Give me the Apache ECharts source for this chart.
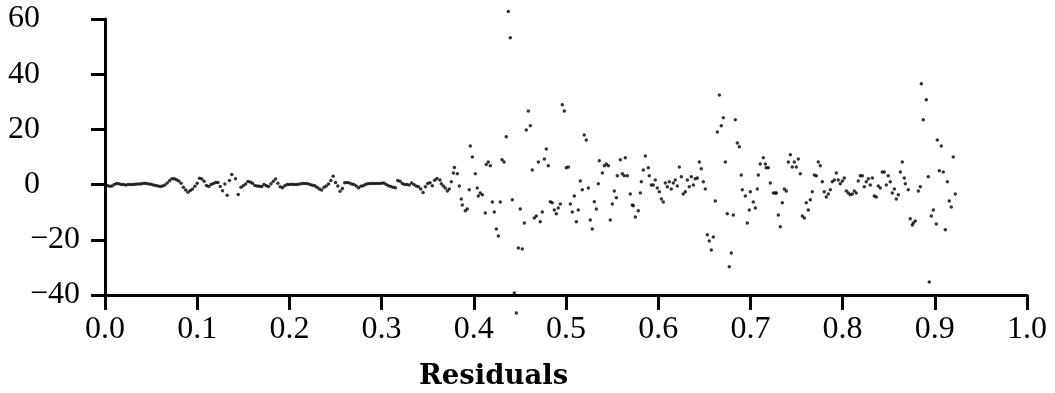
<!DOCTYPE html>
<html>
<head>
<meta charset="utf-8">
<script src="https://cdn.jsdelivr.net/npm/echarts@6/dist/echarts.min.js"></script>
<style>
html,body{margin:0;padding:0;background:#fff;}
#chart{width:1055px;height:393px;}
</style>
</head>
<body>
<div id="chart"></div>
<script>
// Tick labels
const xTicks = [0.0, 0.1, 0.2, 0.3, 0.4, 0.5, 0.6, 0.7, 0.8, 0.9, 1.0];
const yTicks = [-40, -20, 0, 20, 40, 60];
const titleText = 'Residuals';

// Low-noise part of the residuals (x < 0.365)
const flatX = [0.0000,0.0025,0.0050,0.0075,0.0100,0.0125,0.0150,0.0175,0.0200,0.0225,0.0250,0.0275,0.0300,0.0325,0.0350,0.0375,0.0400,0.0425,0.0450,0.0475,0.0500,0.0525,0.0550,0.0575,0.0600,0.0625,0.0650,0.0675,0.0700,0.0725,0.0750,0.0775,0.0800,0.0825,0.0850,0.0875,0.0900,0.0925,0.0950,0.0975,0.1000,0.1025,0.1050,0.1075,0.1100,0.1125,0.1150,0.1175,0.1200,0.1225,0.1250,0.1275,0.1300,0.1325,0.1350,0.1375,0.1415,0.1445,0.1475,0.1500,0.1525,0.1550,0.1575,0.1600,0.1625,0.1650,0.1675,0.1700,0.1725,0.1750,0.1775,0.1800,0.1825,0.1850,0.1875,0.1900,0.1925,0.1950,0.1975,0.2000,0.2025,0.2050,0.2075,0.2100,0.2125,0.2150,0.2175,0.2200,0.2225,0.2250,0.2275,0.2300,0.2325,0.2350,0.2375,0.2400,0.2425,0.2450,0.2475,0.2500,0.2525,0.2550,0.2575,0.2600,0.2625,0.2650,0.2675,0.2700,0.2725,0.2750,0.2775,0.2800,0.2825,0.2850,0.2875,0.2900,0.2925,0.2950,0.2975,0.3000,0.3025,0.3050,0.3075,0.3100,0.3125,0.3150,0.3175,0.3200,0.3225,0.3250,0.3275,0.3300,0.3325,0.3350,0.3375,0.3400,0.3425,0.3450,0.3475,0.3500,0.3525,0.3550,0.3575,0.3600];
const flatY = [0,-0.3,-0.6,-0.5,0,0.4,0.3,0,0,-0.1,0,0,0,0.1,0.2,0.2,0.3,0.5,0.4,0.2,0.1,-0.1,-0.3,-0.5,-0.7,-0.5,-0.1,0.6,1.4,2.1,2.1,1.8,1.3,0.5,-1.0,-2.0,-2.8,-2.1,-1.6,-0.6,0.5,2.3,2.0,1.2,-0.3,-0.7,0,0.4,0.8,0.8,-0.7,-2.2,0.2,-3.9,1.5,3.7,2.1,-3.6,-1.0,-0.4,0.2,1.1,0.9,0.5,-0.3,-0.5,-0.6,-0.7,0,-0.4,-0.7,0.3,1.2,2.0,0.5,-0.8,-1.1,-0.4,0,0,0.1,0,0,0.1,0.3,0.4,0.4,0.3,0,-0.2,-0.4,-1.0,-1.6,-2.0,-1.0,-0.5,0.2,1.5,3.0,0.8,-0.5,-2.4,-1.4,0.7,0.8,0.6,0.2,0,-0.5,-1.1,-0.6,-0.4,0,0.3,0.4,0.4,0.4,0.4,0.4,0.5,0.6,0,-0.4,-0.7,-1.0,-1.1,1.5,1.2,0.4,0,0,-0.1,0.6,0,-0.5,-0.8,-1.6,-2.9,-0.8,0.4,0.7,-0.4,1.6,2.2];

// First noisy stretch (0.363 – 0.536)
const midX = [0.3633,0.3648,0.3669,0.3691,0.3713,0.3734,0.3756,0.3778,0.3789,0.3821,0.3843,0.3864,0.3875,0.3908,0.3929,0.3951,0.3962,0.3984,0.4016,0.4038,0.4049,0.4070,0.4092,0.4125,0.4135,0.4157,0.4179,0.4201,0.4222,0.4244,0.4266,0.4287,0.4306,0.4328,0.4352,0.4374,0.4396,0.4418,0.4439,0.4461,0.4483,0.4504,0.4526,0.4548,0.4569,0.4591,0.4613,0.4634,0.4656,0.4678,0.4700,0.4721,0.4743,0.4765,0.4786,0.4808,0.4830,0.4851,0.4873,0.4895,0.4916,0.4938,0.4960,0.4982,0.5003,0.5025,0.5047,0.5068,0.5090,0.5112,0.5133,0.5155,0.5177,0.5198,0.5220,0.5242,0.5263,0.5285,0.5307,0.5329,0.5350,0.5361];
const midY = [1.7,0.3,-0.5,-1.2,-2.3,-1.6,1.0,4.2,6.2,3.9,-0.5,-5.2,-7.4,-9.5,-8.8,-1.9,14.0,10.0,3.9,-1.2,-4.1,-3.0,-3.7,-10.3,7.3,8.2,6.8,-6.3,-9.9,-16.1,-18.6,-6.3,9.0,8.2,17.3,62.7,53.2,-5.5,-39.3,-46.5,-23.0,-8.8,-23.3,-13.9,19.8,26.7,21.3,5.3,-12.1,-11.4,8.2,-13.5,-9.9,9.3,12.9,6.8,-6.2,-6.6,-9.2,-10.6,-8.5,-7.0,28.9,26.7,6.1,6.4,-7.0,-9.9,-4.1,-13.5,-9.2,1.3,-1.9,18.0,16.2,-1.2,-12.8,-16.1,-6.2,-8.8,0.3,8.6];

// Second stretch (0.539 – 0.725)
const lateX = [0.5394,0.5415,0.5437,0.5459,0.5480,0.5502,0.5524,0.5546,0.5556,0.5589,0.5611,0.5632,0.5643,0.5665,0.5697,0.5719,0.5730,0.5752,0.5784,0.5806,0.5817,0.5838,0.5860,0.5893,0.5903,0.5925,0.5947,0.5968,0.5990,0.6012,0.6034,0.6055,0.6077,0.6099,0.6120,0.6142,0.6164,0.6185,0.6207,0.6229,0.6251,0.6272,0.6294,0.6316,0.6337,0.6359,0.6381,0.6402,0.6424,0.6446,0.6467,0.6489,0.6511,0.6533,0.6554,0.6576,0.6598,0.6619,0.6641,0.6663,0.6684,0.6706,0.6728,0.6749,0.6771,0.6793,0.6815,0.6836,0.6858,0.6880,0.6901,0.6912,0.6945,0.6966,0.6988,0.6999,0.7031,0.7053,0.7075,0.7086,0.7107,0.7140,0.7162,0.7172,0.7194,0.7216,0.7249];
const lateY = [4.2,6.8,7.5,6.8,-12.8,-7.0,-2.3,-4.8,3.2,9.0,3.9,3.2,9.7,3.2,-3.4,-7.4,-7.7,-11.7,-9.5,-3.0,1.0,5.3,10.4,6.1,3.2,-0.1,-0.1,1.7,-1.2,-2.6,-5.2,-6.3,0.6,-0.8,1.0,-1.6,0.6,1.7,-0.5,6.4,2.8,-3.4,-2.6,1.7,-0.8,2.8,-0.1,2.1,2.4,8.2,5.7,1.0,-1.6,-18.2,-20.4,-23.7,-19.0,-5.9,19.1,32.5,21.3,24.2,8.2,-10.6,-29.8,-24.8,-11.0,23.5,15.1,13.7,3.5,-1.9,-4.1,-13.9,-9.2,-2.6,-6.3,-8.5,-1.6,3.5,7.5,9.7,7.5,6.1,6.1,0.6,-3.0];

// Last stretch (0.727 – 0.922)
const endX = [0.7270,0.7281,0.7303,0.7324,0.7346,0.7368,0.7389,0.7411,0.7433,0.7454,0.7476,0.7498,0.7520,0.7541,0.7563,0.7585,0.7606,0.7628,0.7650,0.7671,0.7693,0.7715,0.7736,0.7758,0.7780,0.7801,0.7823,0.7845,0.7867,0.7888,0.7910,0.7932,0.7953,0.7975,0.7997,0.8018,0.8040,0.8062,0.8083,0.8105,0.8127,0.8148,0.8170,0.8192,0.8214,0.8235,0.8257,0.8279,0.8300,0.8322,0.8344,0.8365,0.8387,0.8409,0.8430,0.8452,0.8474,0.8495,0.8517,0.8539,0.8561,0.8582,0.8604,0.8626,0.8647,0.8669,0.8680,0.8712,0.8734,0.8756,0.8767,0.8788,0.8821,0.8843,0.8854,0.8875,0.8908,0.8929,0.8940,0.8962,0.8984,0.9016,0.9027,0.9049,0.9070,0.9092,0.9114,0.9136,0.9157,0.9179,0.9200,0.9222];
const endY = [-3.0,-3.0,-11.0,-15.3,-6.6,-1.6,-2.3,8.2,10.8,6.4,8.2,6.4,9.3,3.9,-11.4,-12.1,-6.6,-9.2,-5.5,-2.6,3.5,3.2,8.2,6.8,1.0,-2.6,-4.5,-3.4,-1.9,1.0,1.7,4.2,1.7,0.3,1.3,2.4,-2.3,-3.0,-3.7,-3.4,-2.3,-3.0,1.3,3.2,3.2,-0.8,1.0,2.1,-0.1,2.4,-4.1,-4.5,-0.5,-1.2,4.6,4.6,-0.1,3.2,1.0,-3.0,-1.6,-5.2,-3.7,4.6,8.2,2.4,0.3,-1.9,-12.4,-14.6,-13.9,-13.2,-2.3,-0.8,36.5,23.5,30.7,2.8,-35.3,-11.4,-9.2,-14.3,16.2,5.0,14.0,4.6,-16.4,1.0,-5.9,-8.1,10.0,-3.4];

function pairs(xs, ys) { return xs.map((x, i) => [x, ys[i]]); }
const points = [].concat(pairs(flatX, flatY), pairs(midX, midY), pairs(lateX, lateY), pairs(endX, endY));

const FONT = '"Liberation Serif", "Times New Roman", serif';
const chart = echarts.init(document.getElementById('chart'), null, {renderer: 'canvas'});
chart.setOption({
  animation: false,
  backgroundColor: '#ffffff',
  title: {
    text: titleText,
    left: 414,
    top: 358,
    textStyle: {fontFamily: '"DejaVu Serif", serif', fontWeight: 'bold', fontSize: 27.5, color: '#000'}
  },
  grid: {left: 105, right: 28, top: 19, bottom: 98, containLabel: false},
  xAxis: {
    type: 'value',
    min: xTicks[0], max: xTicks[xTicks.length - 1], interval: 0.1,
    splitLine: {show: false},
    axisLine: {show: true, onZero: false, lineStyle: {color: '#000', width: 3}},
    axisTick: {show: true, length: 15, lineStyle: {color: '#000', width: 3}},
    axisLabel: {
      margin: 19, color: '#000', fontFamily: FONT, fontSize: 32,
      formatter: v => v.toFixed(1)
    }
  },
  yAxis: {
    type: 'value',
    min: yTicks[0], max: yTicks[yTicks.length - 1], interval: 20,
    splitLine: {show: false},
    axisLine: {show: true, onZero: false, lineStyle: {color: '#000', width: 3}},
    axisTick: {show: true, length: 14, lineStyle: {color: '#000', width: 3}},
    axisLabel: {
      margin: 25, color: '#000',
      formatter: v => v < 0 ? '{n|\u2212' + Math.abs(v) + '}' : '{n|' + v + '}{p|}',
      rich: {
        n: {fontFamily: FONT, fontSize: 32, color: '#000'},
        p: {width: 40}
      }
    }
  },
  series: [{
    type: 'scatter',
    data: points,
    symbol: 'circle',
    symbolSize: 3.5,
    clip: false,
    itemStyle: {color: '#000'}
  }]
});
</script>
</body>
</html>
